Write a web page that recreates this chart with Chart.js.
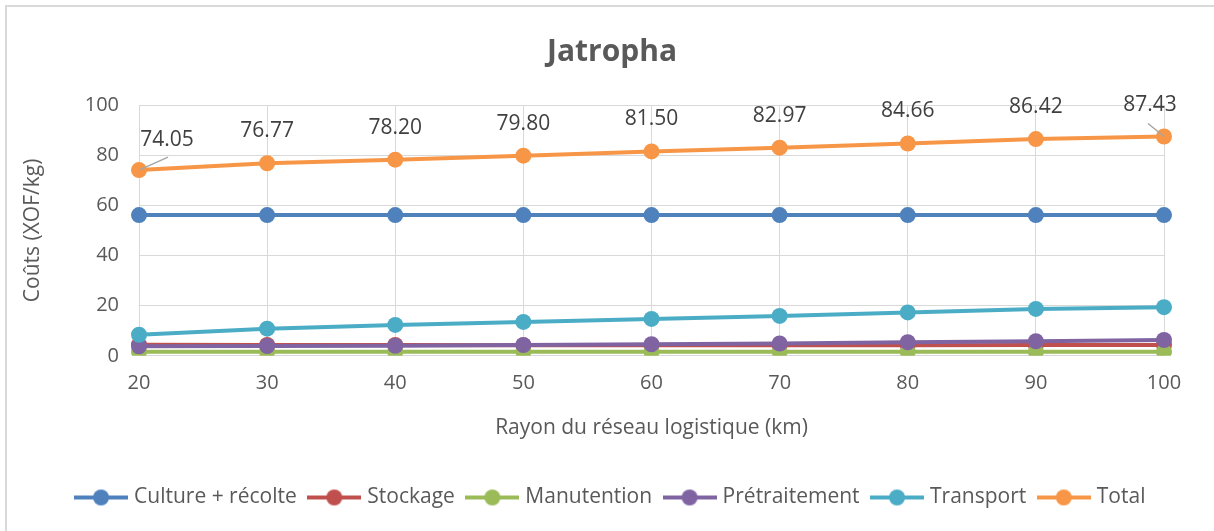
<!DOCTYPE html>
<html>
<head>
<meta charset="utf-8">
<script src="https://cdn.jsdelivr.net/npm/chart.js@4"></script>
<style>
  html, body { margin: 0; padding: 0; background: #fff; }
  #wrap { width: 1214px; height: 531px; }
</style>
</head>
<body>
<div id="wrap"><canvas id="chart" width="1214" height="531"></canvas></div>
<script>
// ---------- data ----------
const rayons = ["20", "30", "40", "50", "60", "70", "80", "90", "100"];
const culture = [56.1, 56.1, 56.1, 56.1, 56.1, 56.1, 56.1, 56.1, 56.1];
const stockage = [4.4, 4.3, 4.3, 4.2, 4.2, 4.2, 4.2, 4.3, 4.3];
const manutention = [1.6, 1.6, 1.6, 1.6, 1.6, 1.6, 1.6, 1.6, 1.6];
const pretraitement = [3.8, 3.9, 4.0, 4.3, 4.6, 4.9, 5.4, 5.8, 6.3];
const transport = [8.4, 10.8, 12.3, 13.5, 14.7, 15.9, 17.3, 18.7, 19.4];
const total = [74.05, 76.77, 78.2, 79.8, 81.5, 82.97, 84.66, 86.42, 87.43];

const FONT = "'Open Sans', sans-serif";
const TEXT = "#595959";
const GRID = "#d9d9d9";

// legend marker: short line with a dot in the middle
function legendMark(color) {
  const c = document.createElement("canvas");
  c.width = 54; c.height = 18;
  const g = c.getContext("2d");
  g.strokeStyle = color; g.lineWidth = 4;
  g.beginPath(); g.moveTo(0, 9); g.lineTo(54, 9); g.stroke();
  g.fillStyle = color;
  g.beginPath(); g.arc(27, 9, 8, 0, Math.PI * 2); g.fill();
  return c;
}

function series(label, data, color, order) {
  return {
    label, data, order,
    borderColor: color, backgroundColor: color,
    borderWidth: 4, pointRadius: 8, pointHoverRadius: 8,
    pointBorderWidth: 0, tension: 0,
    legendMark: legendMark(color),
  };
}

// outer frame + white background
const frame = {
  id: "frame",
  beforeDraw(chart) {
    const { ctx } = chart;
    ctx.save();
    ctx.fillStyle = "#fff";
    ctx.fillRect(0, 0, chart.width, chart.height);
    ctx.strokeStyle = GRID; ctx.lineWidth = 2;
    ctx.strokeRect(6, 6, chart.width + 20, chart.height + 20);
    ctx.restore();
  },
};

// value labels above the Total points
const totalLabels = {
  id: "totalLabels",
  afterDatasetsDraw(chart) {
    const idx = chart.data.datasets.findIndex((d) => d.label === "Total");
    const meta = chart.getDatasetMeta(idx);
    const { ctx } = chart;
    ctx.save();
    ctx.font = "21px " + FONT;
    ctx.fillStyle = "#404040";
    ctx.textAlign = "center";
    ctx.textBaseline = "middle";
    meta.data.forEach((pt, i) => {
      let dx = 0, dy = -32;
      const last = i === meta.data.length - 1;
      if (i === 0) { dx = 28; dy = -30; }
      if (last) { dx = -14; dy = -32; }
      if (i === 0 || last) {
        ctx.strokeStyle = "#a6a6a6"; ctx.lineWidth = 1.5;
        ctx.beginPath();
        ctx.moveTo(pt.x, pt.y);
        ctx.lineTo(i === 0 ? pt.x + 29 : pt.x - 16, pt.y - 13);
        ctx.stroke();
      }
      ctx.fillText(total[i].toFixed(2), pt.x + dx, pt.y + dy);
    });
    ctx.restore();
  },
};

new Chart(document.getElementById("chart"), {
  type: "line",
  data: {
    labels: rayons,
    datasets: [
      series("Culture + récolte", culture, "#4f81bd", 5),
      series("Stockage", stockage, "#c0504d", 4),
      series("Manutention", manutention, "#9bbb59", 3),
      series("Prétraitement", pretraitement, "#8064a2", 2),
      series("Transport", transport, "#4bacc6", 1),
      series("Total", total, "#f79646", 0),
    ],
  },
  options: {
    responsive: false,
    animation: false,
    layout: { padding: { left: 10, right: 0, top: 0, bottom: 13 } },
    plugins: {
      title: {
        display: true, text: "Jatropha", color: TEXT,
        font: { family: FONT, size: 30, weight: "bold" },
        padding: { top: 34, bottom: 35 },
      },
      legend: {
        position: "bottom",
        labels: {
          color: TEXT, font: { family: FONT, size: 21 },
          usePointStyle: true, pointStyleWidth: 45, padding: 15,
          generateLabels(chart) {
            return chart.data.datasets.map((d, i) => ({
              text: d.label, fontColor: TEXT, datasetIndex: i,
              pointStyle: d.legendMark, lineWidth: 0,
              fillStyle: d.borderColor, strokeStyle: d.borderColor,
            }));
          },
        },
      },
      tooltip: { enabled: false },
    },
    scales: {
      x: {
        offset: false,
        grid: { color: GRID, offset: false, drawTicks: false },
        border: { color: GRID },
        ticks: { color: TEXT, font: { family: FONT, size: 20 }, padding: 15 },
        title: {
          display: true, text: "Rayon du réseau logistique (km)", color: TEXT,
          font: { family: FONT, size: 21 }, padding: { top: 6, bottom: 31 },
        },
      },
      y: {
        min: 0, max: 100,
        grid: { color: GRID, drawTicks: false },
        border: { display: false },
        ticks: { stepSize: 20, color: TEXT, font: { family: FONT, size: 20 }, padding: 20 },
        title: {
          display: true, text: "Coûts (XOF/kg)", color: TEXT,
          font: { family: FONT, size: 21 }, padding: { top: 10, bottom: 8 },
        },
        afterFit(s) { s.width = 129; },
      },
      // empty right-hand axis: keeps the plot clear of the right edge
      yRight: {
        position: "right", min: 0, max: 100,
        grid: { display: false }, border: { display: false },
        ticks: { display: false },
        afterFit(s) { s.width = 50; },
      },
    },
  },
  plugins: [frame, totalLabels],
});
</script>
</body>
</html>
